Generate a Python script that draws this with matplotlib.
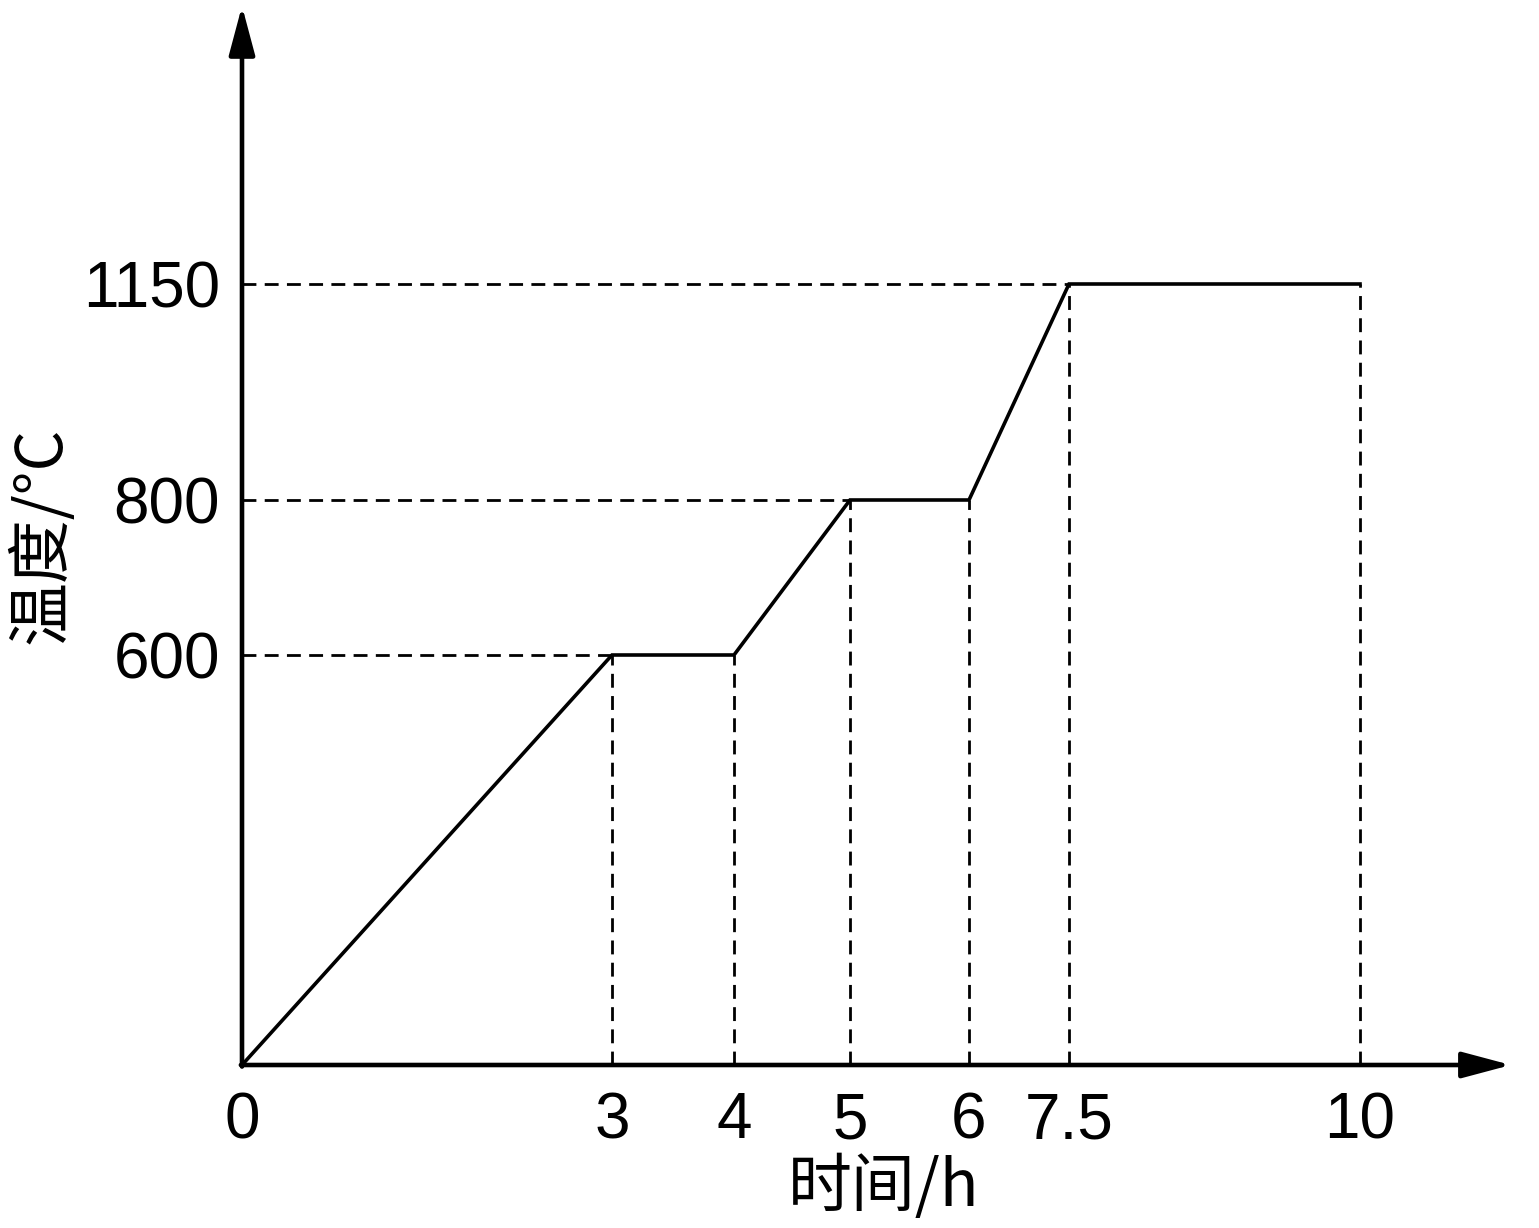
import numpy as np
import matplotlib
matplotlib.use('Agg')
from matplotlib import pyplot as plt

plt.rcParams['font.family'] = ['Liberation Sans', 'Noto Sans CJK SC', 'DejaVu Sans']

# heating schedule (time in h, temperature in degC)
times = [0, 3, 4, 5, 6, 7.5, 10]
temps = [0, 600, 600, 800, 800, 1150, 1150]
xticklabels = ['0', '3', '4', '5', '6', '7.5', '10']
yticks = [600, 800, 1150]
yticklabels = ['600', '800', '1150']

# the drawing is schematic, not to scale: pixel spots of each tick
xpix = [242, 612, 734, 850, 969, 1069, 1360]
ypix_vals = [0, 600, 800, 1150]
ypix = [1065, 655, 500, 284]

W, H = 1539, 1228


def xfwd(v):
    return np.interp(v, times, xpix)


def xinv(p):
    return np.interp(p, xpix, times)


def yfwd(v):
    return -np.interp(v, ypix_vals, ypix)


def yinv(p):
    return np.interp(-p, ypix[::-1], ypix_vals[::-1])


fig = plt.figure(figsize=(W / 100, H / 100), dpi=100)
axw = xpix[-1] - xpix[0]
axh = ypix[0] - ypix[-1]
ax = fig.add_axes([xpix[0] / W, 1 - ypix[0] / H, axw / W, axh / H])
ax.set_xscale('function', functions=(xfwd, xinv))
ax.set_yscale('function', functions=(yfwd, yinv))
ax.set_xlim(0, 10)
ax.set_ylim(0, 1150)

for s in ax.spines.values():
    s.set_visible(False)

# guide lines
dash = dict(color='black', lw=2, linestyle=(0, (5, 3)), clip_on=False)
for t, T in zip(times[1:], temps[1:]):
    ax.plot([t, t], [0, T], **dash)
for T in yticks:
    i = temps.index(T)
    ax.plot([0, times[i]], [T, T], **dash)

ax.plot(times, temps, color='black', lw=2.6, clip_on=False, solid_joinstyle='miter')

# axes with arrows
arr = dict(arrowstyle='-|>,head_length=30,head_width=8', mutation_scale=1,
           color='black', lw=3.3, shrinkA=0, shrinkB=0)
ax.annotate('', xy=(1.135, 0), xytext=(-0.001, 0), xycoords='axes fraction', arrowprops=arr)
ax.annotate('', xy=(0, 1.356), xytext=(0, -0.002), xycoords='axes fraction', arrowprops=arr)

ax.set_xticks(times)
ax.set_xticklabels(xticklabels)
ax.set_yticks(yticks)
ax.set_yticklabels(yticklabels)
ax.tick_params(length=0, labelsize=46)
ax.tick_params(axis='x', pad=19)
ax.tick_params(axis='y', pad=16)
ax.minorticks_off()

cjk = ['Noto Sans CJK SC', 'DejaVu Sans']
ax.set_xlabel('时间/h', fontsize=46, family=cjk, va='center', ha='center')
ax.set_ylabel('温度/°C', fontsize=46, family=cjk, va='center', ha='center')
ax.xaxis.set_label_coords((884 - xpix[0]) / axw, -(1188 - ypix[0]) / axh)
ax.yaxis.set_label_coords(-(xpix[0] - 42) / axw, (ypix[0] - 535) / axh)

fig.savefig('out.png', dpi=100)
